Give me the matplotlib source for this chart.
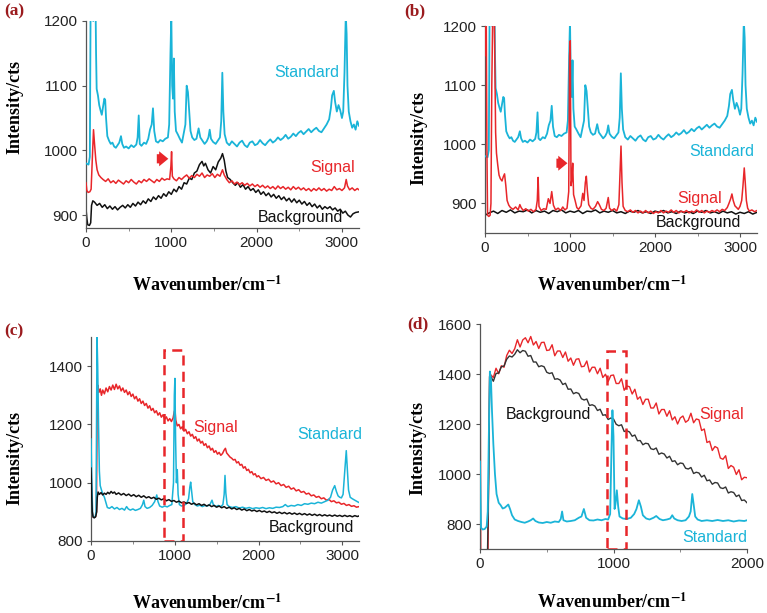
import numpy as np
import matplotlib.pyplot as plt
from matplotlib.patches import Rectangle

plt.rcParams['font.family'] = ['Liberation Sans', 'DejaVu Sans']
plt.rcParams['mathtext.fontset'] = 'stix'

# ---- data: (wavenumber, intensity) ----
# standard spectrum, shared by panels (a) and (b)
std_ab = [(0, 980), (30, 978), (45, 990), (55, 1250), (70, 1250), (85, 1200), (100, 1250), (110, 1250),
          (118, 1150), (125, 1095), (140, 1085), (155, 1070), (170, 1062), (185, 1055), (200, 1068),
          (215, 1080), (225, 1078), (235, 1050), (250, 1022), (270, 1015), (290, 1010), (310, 1012),
          (330, 1006), (350, 1004), (370, 1008), (390, 1012), (410, 1022), (425, 1010), (445, 1004),
          (470, 1006), (500, 1003), (530, 1008), (560, 1005), (590, 1009), (605, 1020), (618, 1054),
          (630, 1010), (650, 1007), (680, 1012), (705, 1010), (730, 1018), (750, 1032), (770, 1040),
          (785, 1065), (800, 1030), (820, 1014), (845, 1012), (870, 1016), (900, 1014), (930, 1018),
          (960, 1020), (975, 1040), (990, 1150), (1000, 1210), (1010, 1100), (1020, 1080), (1030, 1142),
          (1040, 1060), (1055, 1030), (1075, 1025), (1100, 1018), (1125, 1012), (1150, 1030), (1165, 1040),
          (1180, 1100), (1195, 1090), (1210, 1060), (1225, 1030), (1245, 1020), (1270, 1016), (1295, 1018),
          (1320, 1034), (1340, 1020), (1365, 1015), (1390, 1010), (1415, 1014), (1435, 1020), (1450, 1032),
          (1465, 1018), (1490, 1013), (1520, 1010), (1545, 1015), (1570, 1020), (1585, 1045), (1598, 1120),
          (1610, 1060), (1625, 1025), (1650, 1012), (1680, 1008), (1710, 1014), (1740, 1010), (1770, 1006),
          (1800, 1012), (1830, 1015), (1860, 1008), (1890, 1005), (1920, 1012), (1950, 1014), (1980, 1008),
          (2010, 1010), (2040, 1016), (2070, 1011), (2100, 1008), (2130, 1013), (2160, 1017), (2190, 1012),
          (2220, 1015), (2250, 1020), (2280, 1016), (2310, 1019), (2340, 1024), (2370, 1018), (2400, 1021),
          (2430, 1026), (2460, 1022), (2490, 1027), (2520, 1030), (2550, 1025), (2580, 1029), (2610, 1033),
          (2640, 1028), (2670, 1032), (2700, 1035), (2730, 1030), (2760, 1028), (2790, 1034), (2820, 1040),
          (2850, 1048), (2870, 1065), (2885, 1085), (2905, 1092), (2920, 1075), (2940, 1060), (2960, 1070),
          (2980, 1062), (3000, 1050), (3015, 1060), (3030, 1120), (3045, 1210), (3055, 1180), (3065, 1100),
          (3080, 1060), (3100, 1045), (3120, 1035), (3140, 1040), (3160, 1032), (3180, 1045), (3200, 1038)]

sig_a = [(0, 950), (10, 938), (25, 935), (45, 936), (60, 940), (75, 990), (88, 1032), (100, 1010), (115, 985),
         (130, 970), (150, 962), (175, 958), (200, 955), (230, 952), (260, 956), (290, 950), (320, 953),
         (350, 949), (380, 954), (410, 951), (440, 948), (470, 953), (500, 950), (530, 955), (560, 951),
         (590, 948), (620, 953), (650, 950), (680, 955), (710, 952), (740, 956), (770, 953), (800, 950),
         (830, 955), (860, 952), (890, 957), (920, 954), (950, 956), (980, 955), (995, 975), (1003, 998),
         (1012, 960), (1030, 956), (1060, 953), (1090, 958), (1120, 955), (1150, 959), (1180, 962),
         (1210, 957), (1240, 961), (1270, 958), (1300, 963), (1330, 960), (1360, 965), (1390, 958),
         (1420, 962), (1450, 960), (1480, 964), (1510, 958), (1540, 963), (1570, 960), (1600, 970),
         (1620, 962), (1650, 955), (1680, 950), (1710, 953), (1740, 948), (1770, 951), (1800, 947),
         (1830, 950), (1860, 946), (1890, 949), (1920, 945), (1950, 948), (1980, 944), (2010, 947),
         (2040, 943), (2070, 946), (2100, 942), (2130, 945), (2160, 941), (2190, 944), (2220, 940),
         (2250, 945), (2280, 941), (2310, 944), (2340, 940), (2370, 943), (2400, 939), (2430, 944),
         (2460, 940), (2490, 943), (2520, 939), (2550, 942), (2580, 938), (2610, 941), (2640, 937),
         (2670, 941), (2700, 938), (2730, 942), (2760, 938), (2790, 941), (2820, 937), (2850, 940),
         (2880, 938), (2910, 944), (2940, 939), (2970, 941), (3000, 938), (3030, 942), (3050, 955),
         (3065, 945), (3090, 939), (3120, 942), (3150, 938), (3180, 941), (3200, 939)]

bg_a = [(0, 910), (10, 895), (20, 885), (40, 884), (55, 888), (65, 915), (80, 922), (100, 920), (130, 915),
        (160, 918), (190, 912), (220, 916), (250, 910), (280, 914), (310, 909), (340, 913), (370, 908),
        (400, 912), (430, 915), (460, 911), (490, 916), (520, 912), (550, 918), (580, 914), (610, 920),
        (640, 916), (670, 922), (700, 918), (730, 925), (760, 921), (790, 928), (820, 924), (850, 930),
        (880, 926), (910, 933), (940, 929), (970, 936), (1000, 932), (1030, 940), (1060, 936), (1090, 944),
        (1120, 940), (1150, 950), (1180, 948), (1210, 957), (1240, 955), (1270, 965), (1300, 968),
        (1330, 978), (1360, 983), (1380, 976), (1400, 980), (1430, 970), (1460, 965), (1490, 975),
        (1520, 970), (1550, 982), (1580, 988), (1600, 995), (1620, 985), (1640, 968), (1660, 958),
        (1690, 955), (1720, 950), (1750, 946), (1780, 950), (1810, 943), (1840, 947), (1870, 940),
        (1900, 944), (1930, 938), (1960, 941), (1990, 935), (2020, 939), (2050, 932), (2080, 936),
        (2110, 930), (2140, 934), (2170, 928), (2200, 932), (2230, 926), (2260, 930), (2290, 924),
        (2320, 928), (2350, 922), (2380, 926), (2410, 920), (2440, 925), (2470, 919), (2500, 923),
        (2530, 917), (2560, 921), (2590, 915), (2620, 919), (2650, 913), (2680, 917), (2710, 911),
        (2740, 915), (2770, 909), (2800, 913), (2830, 910), (2860, 913), (2890, 908), (2920, 911),
        (2950, 906), (2980, 909), (3010, 903), (3040, 906), (3070, 900), (3100, 897), (3130, 902),
        (3160, 904), (3200, 905)]

sig_b = [(0, 1150), (8, 1210), (15, 1210), (22, 1000), (30, 880), (45, 878), (60, 880), (70, 900), (80, 1100),
         (90, 1210), (110, 1210), (118, 1100), (125, 1020), (135, 985), (150, 965), (165, 948), (180, 942),
         (200, 938), (215, 945), (230, 950), (245, 930), (260, 905), (280, 897), (300, 893), (330, 890),
         (360, 894), (390, 889), (410, 898), (425, 893), (450, 888), (480, 891), (510, 887), (540, 890),
         (570, 886), (600, 890), (615, 905), (625, 944), (635, 895), (660, 888), (690, 891), (720, 890),
         (745, 908), (765, 900), (785, 920), (805, 897), (830, 889), (860, 892), (890, 888), (915, 894),
         (940, 889), (965, 892), (985, 920), (995, 1150), (1003, 1175), (1012, 930), (1022, 940),
         (1032, 968), (1042, 915), (1060, 905), (1080, 893), (1100, 890), (1130, 896), (1150, 917),
         (1165, 905), (1180, 935), (1192, 946), (1205, 920), (1220, 898), (1245, 892), (1270, 890),
         (1300, 895), (1325, 903), (1345, 898), (1370, 890), (1400, 888), (1425, 892), (1450, 910),
         (1465, 892), (1490, 888), (1520, 891), (1550, 887), (1575, 898), (1590, 960), (1600, 997),
         (1612, 935), (1625, 895), (1650, 888), (1680, 886), (1710, 889), (1740, 885), (1770, 888),
         (1800, 884), (1830, 887), (1860, 884), (1890, 888), (1920, 884), (1950, 887), (1980, 883),
         (2010, 886), (2040, 884), (2070, 888), (2100, 884), (2130, 887), (2160, 885), (2190, 889),
         (2220, 885), (2250, 888), (2280, 884), (2310, 887), (2340, 885), (2370, 888), (2400, 884),
         (2430, 887), (2460, 885), (2490, 889), (2520, 885), (2550, 888), (2580, 884), (2610, 887),
         (2640, 885), (2670, 888), (2700, 886), (2730, 889), (2760, 886), (2790, 890), (2820, 888),
         (2850, 893), (2870, 900), (2890, 908), (2905, 916), (2920, 905), (2940, 896), (2960, 893),
         (2980, 890), (3000, 895), (3020, 905), (3035, 930), (3050, 960), (3062, 935), (3075, 905),
         (3090, 892), (3110, 887), (3140, 889), (3170, 886), (3200, 888)]

bg_b = [(0, 880), (50, 884), (100, 887), (150, 883), (200, 888), (250, 885), (300, 889), (350, 884),
        (400, 887), (450, 886), (500, 889), (550, 884), (600, 888), (650, 885), (700, 887), (750, 883),
        (800, 888), (850, 886), (900, 889), (950, 884), (1000, 887), (1050, 885), (1100, 888), (1150, 883),
        (1200, 887), (1250, 886), (1300, 889), (1350, 884), (1400, 887), (1450, 885), (1500, 888),
        (1550, 884), (1600, 886), (1650, 883), (1700, 887), (1750, 885), (1800, 888), (1850, 884),
        (1900, 886), (1950, 883), (2000, 887), (2050, 885), (2100, 888), (2150, 884), (2200, 886),
        (2250, 883), (2300, 887), (2350, 884), (2400, 886), (2450, 883), (2500, 887), (2550, 885),
        (2600, 888), (2650, 884), (2700, 886), (2750, 883), (2800, 887), (2850, 884), (2900, 886),
        (2950, 882), (3000, 885), (3050, 883), (3100, 886), (3150, 882), (3200, 885)]

sig_c = [(0, 1080), (8, 990), (15, 900), (25, 882), (40, 880), (55, 884), (65, 900), (72, 1200), (80, 1335),
         (95, 1310), (110, 1322), (125, 1300), (140, 1318), (160, 1305), (180, 1325), (200, 1312),
         (220, 1330), (240, 1318), (260, 1335), (280, 1320), (300, 1338), (320, 1322), (340, 1332),
         (360, 1315), (380, 1325), (400, 1310), (420, 1318), (440, 1302), (460, 1312), (480, 1296),
         (500, 1304), (520, 1288), (540, 1296), (560, 1280), (580, 1288), (600, 1272), (620, 1280),
         (640, 1265), (660, 1272), (680, 1256), (700, 1264), (720, 1248), (740, 1255), (760, 1240),
         (780, 1247), (800, 1232), (820, 1240), (840, 1225), (860, 1233), (880, 1218), (900, 1226),
         (920, 1212), (940, 1220), (960, 1210), (980, 1222), (995, 1245), (1003, 1250), (1012, 1215),
         (1030, 1195), (1050, 1200), (1070, 1185), (1090, 1192), (1110, 1177), (1130, 1183), (1150, 1168),
         (1170, 1175), (1190, 1160), (1210, 1166), (1230, 1152), (1250, 1158), (1270, 1143), (1290, 1150),
         (1310, 1136), (1330, 1142), (1350, 1128), (1370, 1134), (1390, 1120), (1410, 1126), (1430, 1112),
         (1450, 1118), (1470, 1104), (1490, 1110), (1510, 1098), (1530, 1104), (1550, 1094), (1570, 1100),
         (1590, 1112), (1605, 1118), (1620, 1102), (1640, 1095), (1660, 1088), (1680, 1084), (1700, 1078),
         (1720, 1080), (1740, 1068), (1760, 1072), (1780, 1060), (1800, 1063), (1820, 1050), (1840, 1055),
         (1860, 1042), (1880, 1046), (1900, 1034), (1920, 1038), (1940, 1027), (1960, 1031), (1980, 1020),
         (2000, 1024), (2030, 1014), (2060, 1018), (2090, 1008), (2120, 1012), (2150, 1002), (2180, 1006),
         (2210, 996), (2240, 1000), (2270, 990), (2300, 994), (2330, 984), (2360, 988), (2390, 978),
         (2420, 982), (2450, 972), (2480, 976), (2510, 967), (2540, 970), (2570, 961), (2600, 964),
         (2630, 955), (2660, 958), (2690, 950), (2720, 953), (2750, 945), (2780, 948), (2810, 940),
         (2840, 943), (2870, 935), (2900, 938), (2930, 931), (2960, 933), (2990, 926), (3020, 929),
         (3050, 922), (3080, 925), (3110, 919), (3140, 921), (3170, 916), (3200, 918)]

std_c = [(0, 1150), (10, 1000), (20, 890), (35, 880), (50, 882), (60, 900), (66, 1200), (72, 1500), (80, 1400),
         (90, 1200), (100, 1040), (110, 990), (125, 975), (140, 962), (160, 950), (180, 930), (195, 915),
         (220, 912), (250, 918), (280, 910), (310, 915), (340, 908), (370, 912), (400, 906), (425, 918),
         (445, 910), (470, 906), (500, 910), (530, 905), (560, 908), (590, 912), (615, 925), (630, 940),
         (645, 918), (670, 912), (700, 915), (730, 922), (760, 935), (785, 958), (800, 935), (820, 920),
         (850, 916), (880, 920), (910, 917), (940, 922), (965, 925), (985, 1000), (995, 1300), (1002, 1358),
         (1010, 1150), (1020, 1000), (1030, 1045), (1040, 960), (1055, 925), (1080, 920), (1110, 922),
         (1140, 928), (1165, 945), (1180, 985), (1190, 1002), (1200, 975), (1215, 935), (1240, 925),
         (1270, 920), (1300, 923), (1330, 918), (1360, 922), (1390, 920), (1420, 925), (1445, 940),
         (1460, 925), (1490, 918), (1520, 922), (1550, 918), (1575, 925), (1590, 960), (1600, 1025),
         (1610, 965), (1625, 925), (1650, 918), (1690, 915), (1730, 918), (1770, 913), (1810, 916),
         (1850, 912), (1890, 915), (1930, 911), (1970, 914), (2010, 912), (2050, 915), (2090, 911),
         (2130, 914), (2170, 912), (2210, 916), (2250, 915), (2290, 918), (2320, 925), (2350, 918),
         (2390, 922), (2430, 920), (2470, 925), (2510, 922), (2550, 928), (2590, 926), (2630, 930),
         (2670, 928), (2710, 933), (2750, 930), (2790, 935), (2830, 940), (2860, 950), (2885, 975),
         (2910, 990), (2930, 970), (2950, 955), (2970, 950), (2990, 948), (3010, 960), (3030, 1040),
         (3048, 1110), (3060, 1050), (3075, 975), (3095, 950), (3120, 945), (3150, 940), (3180, 935),
         (3200, 932)]

bg_c = [(0, 1050), (8, 960), (15, 900), (25, 882), (40, 880), (55, 883), (68, 900), (75, 950), (85, 968),
        (100, 960), (120, 966), (140, 958), (160, 964), (180, 960), (200, 967), (220, 962), (240, 970),
        (260, 964), (280, 968), (300, 960), (330, 965), (360, 958), (390, 963), (420, 956), (450, 961),
        (480, 954), (510, 959), (540, 952), (570, 957), (600, 950), (630, 955), (660, 948), (690, 952),
        (720, 946), (750, 950), (780, 943), (810, 947), (840, 941), (870, 945), (900, 938), (930, 942),
        (960, 936), (990, 939), (1020, 933), (1050, 937), (1080, 931), (1110, 934), (1140, 929),
        (1170, 932), (1200, 926), (1230, 930), (1260, 924), (1290, 928), (1320, 922), (1350, 926),
        (1380, 920), (1410, 924), (1440, 918), (1470, 922), (1500, 916), (1530, 920), (1560, 914),
        (1590, 918), (1620, 912), (1650, 916), (1680, 910), (1710, 914), (1740, 908), (1770, 912),
        (1800, 906), (1830, 910), (1860, 904), (1890, 908), (1920, 903), (1950, 906), (1980, 901),
        (2010, 905), (2040, 900), (2070, 903), (2100, 898), (2130, 902), (2160, 897), (2190, 900),
        (2220, 895), (2250, 899), (2280, 894), (2310, 898), (2340, 893), (2370, 897), (2400, 892),
        (2430, 896), (2460, 891), (2490, 895), (2520, 890), (2550, 894), (2580, 889), (2610, 893),
        (2640, 888), (2670, 892), (2700, 887), (2730, 891), (2760, 886), (2790, 890), (2820, 886),
        (2850, 889), (2880, 885), (2910, 889), (2940, 885), (2970, 888), (3000, 884), (3030, 888),
        (3060, 884), (3090, 887), (3120, 883), (3150, 887), (3180, 884), (3200, 886)]

sig_d = [(0, 1600), (3, 1200), (6, 650), (60, 650), (66, 1100), (72, 1390), (80, 1397), (100, 1386),
         (120, 1423), (140, 1401), (160, 1433), (180, 1427), (200, 1474), (220, 1495), (240, 1482),
         (260, 1501), (280, 1537), (300, 1508), (320, 1536), (340, 1545), (360, 1525), (380, 1550),
         (400, 1516), (420, 1530), (440, 1502), (460, 1526), (480, 1527), (500, 1494), (520, 1496),
         (540, 1517), (560, 1473), (580, 1492), (600, 1492), (620, 1466), (640, 1488), (660, 1451),
         (680, 1464), (700, 1435), (720, 1459), (740, 1461), (760, 1429), (780, 1431), (800, 1452),
         (820, 1408), (840, 1427), (860, 1427), (880, 1401), (900, 1423), (920, 1386), (940, 1399),
         (960, 1370), (980, 1394), (1000, 1396), (1020, 1362), (1040, 1362), (1060, 1381), (1080, 1335),
         (1100, 1352), (1120, 1349), (1140, 1320), (1160, 1339), (1180, 1299), (1200, 1309), (1220, 1278),
         (1240, 1299), (1260, 1299), (1280, 1264), (1300, 1264), (1320, 1284), (1340, 1240), (1360, 1258),
         (1380, 1258), (1400, 1231), (1420, 1253), (1440, 1216), (1460, 1229), (1480, 1200), (1500, 1224),
         (1520, 1232), (1540, 1207), (1560, 1215), (1580, 1243), (1600, 1205), (1620, 1220), (1640, 1217),
         (1660, 1174), (1680, 1180), (1700, 1126), (1720, 1131), (1740, 1094), (1760, 1110), (1780, 1104),
         (1800, 1064), (1820, 1059), (1840, 1073), (1860, 1022), (1880, 1034), (1900, 1027), (1920, 998),
         (1940, 1017), (1960, 977), (1980, 987), (2000, 985)]

bg_d = [(55, 650), (66, 1000), (72, 1390), (80, 1391), (100, 1371), (120, 1402), (140, 1404), (160, 1429),
        (180, 1432), (200, 1459), (220, 1472), (240, 1468), (260, 1479), (280, 1497), (300, 1485),
        (320, 1494), (340, 1491), (360, 1471), (380, 1474), (400, 1448), (420, 1448), (440, 1429),
        (460, 1433), (480, 1429), (500, 1407), (520, 1402), (540, 1405), (560, 1379), (580, 1381),
        (600, 1376), (620, 1358), (640, 1363), (660, 1339), (680, 1340), (700, 1321), (720, 1326),
        (740, 1322), (760, 1301), (780, 1296), (800, 1300), (820, 1274), (840, 1277), (860, 1272),
        (880, 1254), (900, 1259), (920, 1235), (940, 1237), (960, 1218), (980, 1224), (1000, 1220),
        (1020, 1199), (1040, 1193), (1060, 1197), (1080, 1170), (1100, 1173), (1120, 1168), (1140, 1151),
        (1160, 1156), (1180, 1133), (1200, 1134), (1220, 1117), (1240, 1123), (1260, 1121), (1280, 1101),
        (1300, 1098), (1320, 1104), (1340, 1079), (1360, 1084), (1380, 1080), (1400, 1064), (1420, 1071),
        (1440, 1050), (1460, 1053), (1480, 1037), (1500, 1044), (1520, 1042), (1540, 1023), (1560, 1020),
        (1580, 1026), (1600, 1002), (1620, 1007), (1640, 1004), (1660, 988), (1680, 995), (1700, 973),
        (1720, 976), (1740, 959), (1760, 966), (1780, 964), (1800, 945), (1820, 942), (1840, 948),
        (1860, 924), (1880, 929), (1900, 926), (1920, 910), (1940, 916), (1960, 894), (1980, 896),
        (2000, 885)]

std_d = [(0, 1050), (4, 900), (8, 785), (20, 778), (35, 780), (50, 790), (58, 850), (66, 1150), (74, 1410),
         (82, 1380), (90, 1250), (100, 1120), (112, 1000), (124, 920), (140, 885), (155, 875), (170, 862),
         (185, 865), (200, 872), (212, 878), (225, 860), (240, 835), (260, 818), (285, 812), (310, 808),
         (335, 805), (360, 810), (380, 815), (398, 822), (415, 812), (440, 806), (470, 804), (500, 808),
         (530, 805), (560, 810), (590, 808), (605, 820), (615, 850), (625, 815), (650, 810), (680, 812),
         (710, 815), (740, 825), (760, 830), (778, 860), (795, 825), (820, 815), (850, 814), (880, 818),
         (910, 815), (940, 820), (960, 818), (975, 840), (985, 1100), (992, 1255), (1000, 1150),
         (1008, 860), (1015, 880), (1025, 935), (1035, 870), (1045, 830), (1070, 822), (1100, 820),
         (1130, 825), (1155, 840), (1172, 860), (1190, 895), (1205, 870), (1220, 835), (1245, 822),
         (1270, 818), (1300, 825), (1320, 832), (1345, 820), (1370, 815), (1400, 818), (1425, 822),
         (1440, 835), (1455, 822), (1480, 815), (1510, 812), (1540, 815), (1565, 830), (1578, 850),
         (1590, 920), (1600, 880), (1612, 830), (1630, 818), (1660, 812), (1700, 815), (1740, 812),
         (1780, 816), (1820, 812), (1860, 815), (1900, 810), (1940, 814), (1980, 812), (2000, 815)]

CYAN = '#1ab4d8'
RED = '#e8262a'
BLACK = '#111111'
LABEL_RED = '#9b1b1e'

fig = plt.figure(figsize=(7.67, 6.13), dpi=100)
W, H = 767, 613


def add_panel(left, top, right, bottom):
    return fig.add_axes([left / W, 1 - bottom / H, (right - left) / W, (bottom - top) / H])


def style(ax, xlim, ylim, yticks, xticks):
    ax.set_xlim(*xlim)
    ax.set_ylim(*ylim)
    ax.set_xticks(xticks)
    ax.set_yticks(yticks)
    ax.set_xticks(np.arange(xlim[0], xlim[1] + 1, 500), minor=True)
    ax.spines['top'].set_visible(False)
    ax.spines['right'].set_visible(False)
    for s in ['left', 'bottom']:
        ax.spines[s].set_color('#555555')
        ax.spines[s].set_linewidth(0.9)
    ax.tick_params(direction='out', length=3, width=0.8, color='#555555',
                   labelsize=11, labelcolor='#222222', pad=3)
    ax.tick_params(which='minor', direction='out', length=2, width=0.6, color='#777777')


def draw(ax, data, color, lw=1.1, z=2):
    arr = np.array(data, dtype=float)
    ax.plot(arr[:, 0], arr[:, 1], color=color, lw=lw, zorder=z)


def red_arrow(ax, x0, x1, y):
    ax.annotate('', xy=(x1, y), xytext=(x0, y),
                arrowprops=dict(arrowstyle='simple,head_length=0.55,head_width=0.9,tail_width=0.55',
                                color=RED, lw=0, shrinkA=0, shrinkB=0, mutation_scale=12))


serif = ['Liberation Serif', 'DejaVu Serif']

# ---------- (a) ----------
ax = add_panel(86, 21, 359, 228)
draw(ax, bg_a, BLACK, z=2)
draw(ax, sig_a, RED, z=3)
draw(ax, std_ab, CYAN, lw=1.3, z=4)
style(ax, (0, 3200), (880, 1200), [900, 1000, 1100, 1200], [0, 1000, 2000, 3000])
ax.text(2590, 1121, 'Standard', color=CYAN, fontsize=11.5, ha='center', va='center')
ax.text(2890, 973, 'Signal', color=RED, fontsize=11.5, ha='center', va='center')
ax.text(2510, 897, 'Background', color=BLACK, fontsize=11.5, ha='center', va='center')
red_arrow(ax, 830, 965, 987)

# ---------- (b) ----------
ax = add_panel(485, 26, 757, 233)
draw(ax, bg_b, BLACK, z=2)
draw(ax, std_ab, CYAN, lw=1.3, z=3)
draw(ax, sig_b, RED, z=4)
style(ax, (0, 3200), (850, 1200), [900, 1000, 1100, 1200], [0, 1000, 2000, 3000])
ax.text(2784, 988, 'Standard', color=CYAN, fontsize=11.5, ha='center', va='center')
ax.text(2526, 908, 'Signal', color=RED, fontsize=11.5, ha='center', va='center')
ax.text(2515, 868, 'Background', color=BLACK, fontsize=11.5, ha='center', va='center')
red_arrow(ax, 840, 970, 968)

# ---------- (c) ----------
ax = add_panel(91, 337, 359, 541)
draw(ax, sig_c, RED, z=2)
draw(ax, std_c, CYAN, z=3)
draw(ax, bg_c, BLACK, z=4)
style(ax, (0, 3200), (800, 1500), [800, 1000, 1200, 1400], [0, 1000, 2000, 3000])
ax.add_patch(Rectangle((874, 800), 225, 656, fill=False, edgecolor=RED, lw=1.8,
                       linestyle=(0, (4, 2.5)), zorder=5))
ax.text(1492, 1188, 'Signal', color=RED, fontsize=11.5, ha='center', va='center')
ax.text(2845, 1164, 'Standard', color=CYAN, fontsize=11.5, ha='center', va='center')
ax.text(2631, 846, 'Background', color=BLACK, fontsize=11.5, ha='center', va='center')

# ---------- (d) ----------
ax = add_panel(480, 324, 747, 549)
draw(ax, sig_d, RED, lw=1.0, z=2)
draw(ax, bg_d, '#333333', lw=1.0, z=3)
draw(ax, std_d, CYAN, lw=1.3, z=4)
style(ax, (0, 2000), (700, 1600), [800, 1000, 1200, 1400, 1600], [0, 1000, 2000])
ax.add_patch(Rectangle((950, 700), 142, 794, fill=False, edgecolor=RED, lw=1.8,
                       linestyle=(0, (4, 2.5)), zorder=5))
ax.text(509, 1240, 'Background', color=BLACK, fontsize=11.5, ha='center', va='center')
ax.text(1813, 1236, 'Signal', color=RED, fontsize=11.5, ha='center', va='center')
ax.text(1761, 744, 'Standard', color=CYAN, fontsize=11.5, ha='center', va='center')

# ---------- axis titles and panel letters ----------
ylab = [(15, 107), (419, 138), (15, 458), (418, 448)]
xlab = [(207, 285), (612, 285), (207, 603), (612, 602)]
for (xp, yp) in ylab:
    fig.text(xp / W, 1 - yp / H, 'Intensity/cts', rotation=90, ha='center', va='center',
             fontsize=13, fontweight='bold', family=serif)
for (xp, yp) in xlab:
    fig.text(xp / W, 1 - yp / H, 'Wavenumber/cm$^{\\mathbf{-1}}$', ha='center', va='center',
             fontsize=13, fontweight='bold', family=serif)

letters = [('(a)', 4, 3), ('(b)', 404, 3), ('(c)', 4, 323), ('(d)', 407, 316)]
for t, xp, yp in letters:
    fig.text(xp / W, 1 - yp / H, t, ha='left', va='top', fontsize=12.5, fontweight='bold',
             color=LABEL_RED, family=serif)

fig.savefig('out.png', dpi=100)
